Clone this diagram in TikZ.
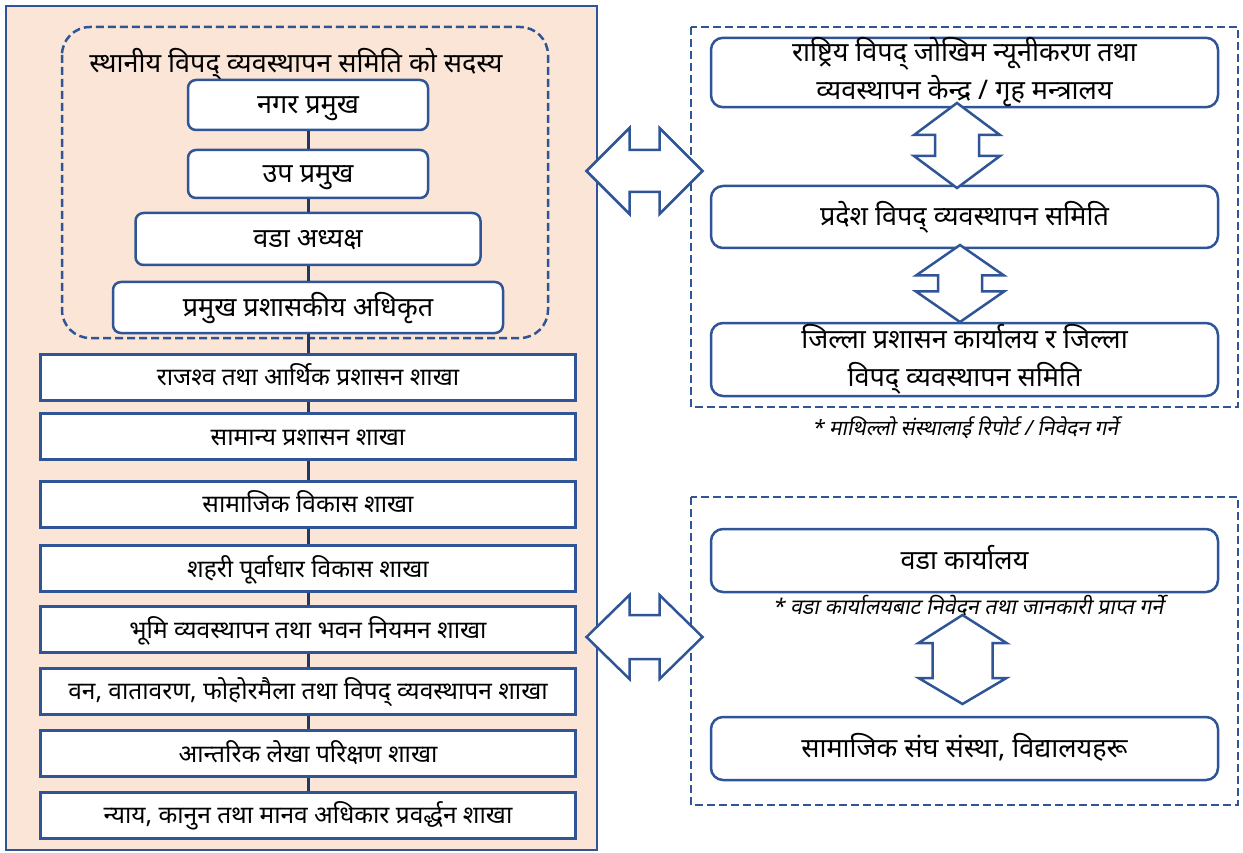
\documentclass[tikz,border=0pt]{standalone}
\usepackage{fontspec}
\setmainfont[Script=Devanagari]{Noto Sans}
\newfontfamily\notefont[Script=Devanagari,FakeSlant=0.2]{Noto Sans}
\usepackage{xcolor}
\usepackage{tikz}
\usetikzlibrary{positioning}

\definecolor{frameblue}{HTML}{2F5597}
\definecolor{peach}{HTML}{FBE5D6}
\definecolor{linknavy}{HTML}{1F3864}

\tikzset{
  lowtext/.style={text height=1.75em, text depth=0em},
  member/.style={draw=frameblue, line width=2.5pt, fill=white, rounded corners=8pt,
    minimum width=240pt, minimum height=50pt, inner sep=0pt, lowtext,
    font=\fontsize{27}{30}\selectfont},
  branch/.style={draw=frameblue, line width=3pt, fill=white,
    minimum width=535pt, minimum height=46pt, inner sep=0pt, lowtext,
    font=\fontsize{24.5}{28}\selectfont},
  agency/.style={draw=frameblue, line width=2.5pt, fill=white, rounded corners=12pt,
    minimum width=507pt, minimum height=63pt, inner sep=0pt, align=center,
    font=\fontsize{27}{38}\selectfont},
  groupline/.style={draw=frameblue, line width=2.5pt, dash pattern=on 8pt off 4pt},
  link/.style={draw=linknavy, line width=3pt},
  bigarrow/.style={draw=frameblue, line width=2.5pt, fill=white, line join=miter},
  note/.style={font=\notefont\fontsize{21}{24}\selectfont}
}

\begin{document}
\begin{tikzpicture}[x=1pt, y=-1pt]
\useasboundingbox (0,0) rectangle (1243,853);
% left frame
\draw[draw=frameblue, line width=2pt, fill=peach] (6,6) rectangle (597,850);
\draw[groupline, rounded corners=28pt] (62,27) rectangle (548,338);
\node[font=\fontsize{27}{30}\selectfont] (title) at (296,64) {स्थानीय विपद् व्यवस्थापन समिति को सदस्य};

\node[member] (mayor) at (308,105) {नगर प्रमुख};
\node[member, minimum height=48pt] (deputy) at (308,174) {उप प्रमुख};
\node[member, minimum width=345pt, minimum height=52pt] (wardchief) at (308,239) {वडा अध्यक्ष};
\node[member, minimum width=390pt, minimum height=51pt] (cao) at (308,307.5) {प्रमुख प्रशासकीय अधिकृत};

\node[branch] (revenue) at (308,377) {राजश्व तथा आर्थिक प्रशासन शाखा};
\node[branch] (admin) at (308,436.5) {सामान्य प्रशासन शाखा};
\node[branch] (social) at (308,504) {सामाजिक विकास शाखा};
\node[branch] (infra) at (308,568.5) {शहरी पूर्वाधार विकास शाखा};
\node[branch] (land) at (308,629.5) {भूमि व्यवस्थापन तथा भवन नियमन शाखा};
\node[branch] (forest) at (308,691) {वन, वातावरण, फोहोरमैला तथा विपद् व्यवस्थापन शाखा};
\node[branch] (audit) at (308,753.5) {आन्तरिक लेखा परिक्षण शाखा};
\node[branch] (justice) at (308,815) {न्याय, कानुन तथा मानव अधिकार प्रवर्द्धन शाखा};

\draw[link] (mayor) -- (deputy);
\draw[link] (deputy) -- (wardchief);
\draw[link] (wardchief) -- (cao);
\draw[link] (cao) -- (revenue);
\draw[link] (revenue) -- (admin);
\draw[link] (admin) -- (social);
\draw[link] (social) -- (infra);
\draw[link] (infra) -- (land);
\draw[link] (land) -- (forest);
\draw[link] (forest) -- (audit);
\draw[link] (audit) -- (justice);

% upper agencies
\draw[groupline] (691,27) rectangle (1238,407);
\node[agency, minimum height=69pt] (ndrrma) at (964.5,72.5) {राष्ट्रिय विपद् जोखिम न्यूनीकरण तथा\\व्यवस्थापन केन्द्र / गृह मन्त्रालय};
\node[agency, minimum height=62pt, lowtext] (province) at (964.5,217) {प्रदेश विपद् व्यवस्थापन समिति};
\node[agency, minimum height=73pt] (district) at (964.5,359.5) {जिल्ला प्रशासन कार्यालय र जिल्ला\\विपद् व्यवस्थापन समिति};
\node[note] (upnote) at (965,428) {* माथिल्लो संस्थालाई रिपोर्ट / निवेदन गर्ने};

% lower agencies
\draw[groupline] (691,497) rectangle (1238,805);
\node[agency, lowtext] (wardoffice) at (964.5,560.5) {वडा कार्यालय};
\node[note, font=\notefont\fontsize{21.5}{24}\selectfont] (downnote) at (968,606) {* वडा कार्यालयबाट निवेदन तथा जानकारी प्राप्त गर्ने};
\node[agency, lowtext] (community) at (964.5,748.5) {सामाजिक संघ संस्था, विद्यालयहरू};

% double arrows
\draw[bigarrow, shift={(644.5,171)}] (-58,0) -- (-15,-43) -- (-15,-21) -- (15,-21) -- (15,-43) -- (58,0)
  -- (15,43) -- (15,21) -- (-15,21) -- (-15,43) -- cycle;
\draw[bigarrow, shift={(644.5,637)}] (-58,0) -- (-15,-42) -- (-15,-22) -- (15,-22) -- (15,-42) -- (58,0)
  -- (15,42) -- (15,22) -- (-15,22) -- (-15,42) -- cycle;
\draw[bigarrow, shift={(957,145.5)}] (0,-42.5) -- (43,-10.5) -- (22,-10.5) -- (22,10.5) -- (43,10.5) -- (0,42.5)
  -- (-43,10.5) -- (-22,10.5) -- (-22,-10.5) -- (-43,-10.5) -- cycle;
\draw[bigarrow, shift={(960,283.5)}] (0,-38.5) -- (44,-8) -- (22,-8) -- (22,8) -- (44,8) -- (0,38.5)
  -- (-44,8) -- (-22,8) -- (-22,-8) -- (-44,-8) -- cycle;
\draw[bigarrow, shift={(962.5,659.5)}] (0,-44.5) -- (44,-16.5) -- (30,-16.5) -- (30,18.5) -- (44,18.5) -- (0,44.5)
  -- (-44,18.5) -- (-30,18.5) -- (-30,-16.5) -- (-44,-16.5) -- cycle;
\end{tikzpicture}
\end{document}
